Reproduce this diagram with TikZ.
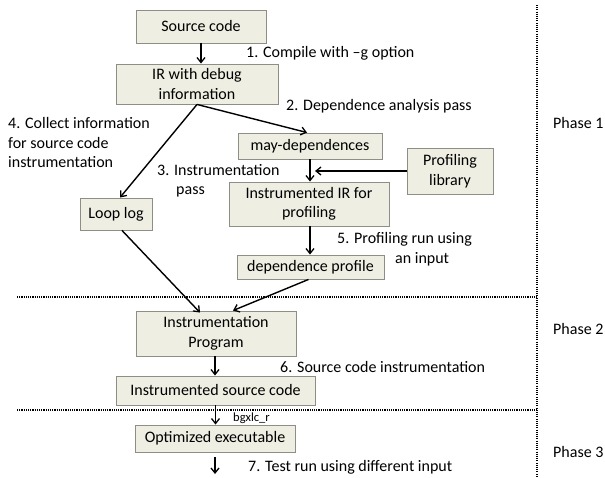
\documentclass[tikz,border=0pt]{standalone}
\usepackage{fontspec}
\setmainfont{Carlito}
\usetikzlibrary{arrows.meta,calc}
\definecolor{boxfill}{HTML}{EEEEE3}
\definecolor{boxline}{HTML}{8E8E86}
\tikzset{
  box/.style={draw=boxline,fill=boxfill,line width=0.9pt,inner sep=0pt,align=center,
    font=\fontsize{16}{19.5}\selectfont},
  lbl/.style={inner sep=0pt,font=\fontsize{16}{19.5}\selectfont},
  arr/.style={-{Straight Barb[length=5pt,width=8pt,line width=1.3pt]},line width=1.4pt,black},
  dots/.style={line width=1.4pt,dash pattern=on 1.1pt off 1.1pt}
}
\begin{document}
\begin{tikzpicture}[x=1pt,y=-1pt]
\useasboundingbox (0,0) rectangle (605,478);
% boxes
\node[box,minimum width=130pt,minimum height=33pt] (src) at (201,26.5) {Source code};
\node[box,minimum width=162pt,minimum height=40pt] (ir) at (197,84) {IR with debug\\information};
\node[box,minimum width=144pt,minimum height=26pt] (may) at (310,146) {may-dependences};
\node[box,minimum width=86pt,minimum height=46pt] (prof) at (450,171) {Profiling\\library};
\node[box,minimum width=160pt,minimum height=44pt] (iir) at (309,204) {Instrumented IR for\\profiling};
\node[box,minimum width=72pt,minimum height=32pt] (loop) at (116,214) {Loop log};
\node[box,minimum width=147pt,minimum height=24pt] (dep) at (310.5,267) {dependence profile};
\node[box,minimum width=160pt,minimum height=45pt] (ip) at (216,333.5) {Instrumentation\\Program};
\node[box,minimum width=199pt,minimum height=29pt] (isc) at (215.5,390.5) {Instrumented source code};
\node[box,minimum width=160pt,minimum height=27pt] (oe) at (215,438.5) {Optimized executable};
% labels
\node[lbl,anchor=west] (l1) at (246,53) {1. Compile with –g option};
\node[lbl,anchor=west] (l2) at (286,106) {2. Dependence analysis pass};
\node[lbl,anchor=west,align=left] (l4) at (8,143) {4. Collect information\\for source code\\instrumentation};
\node[lbl,anchor=west,align=left] (l3) at (157,181) {3. Instrumentation\\\hspace*{19pt}pass};
\node[lbl,anchor=west,align=left] (l5) at (337,249) {5. Profiling run using\\\hspace*{58pt}an input};
\node[lbl,anchor=west] (l6) at (280,367) {6. Source code instrumentation};
\node[inner sep=0pt,anchor=west,font=\fontsize{12.5}{14}\selectfont] (bg) at (233,418) {bgxlc\_r};
\node[lbl,anchor=west] (l7) at (248,467) {7. Test run using different input};
\node[lbl,anchor=west] (p1) at (553,123) {Phase 1};
\node[lbl,anchor=west] (p2) at (553,329) {Phase 2};
\node[lbl,anchor=west] (p3) at (553,452) {Phase 3};
% coordinates
\coordinate (pj) at (315,171);
\coordinate (end) at (215,474);
\coordinate (h1a) at (17,297);
\coordinate (h1b) at (537,297);
\coordinate (h2a) at (17,410);
\coordinate (h2b) at (537,410);
\coordinate (vt) at (537,5);
\coordinate (vb) at (537,476);
% connectors
\draw[arr] (src.south) -- (src.south |- ir.north);
\draw[arr] (ir.south) -- ([xshift=4pt]loop.north);
\draw[arr] (ir.south) -- ([xshift=-3pt]may.north);
\draw[arr] (may.south) -- (may.south |- iir.north);
\draw[arr] (prof.west) -- (pj);
\draw[arr] ([xshift=1pt]iir.south) -- ([xshift=1pt]iir.south |- dep.north);
\draw[arr] ([xshift=6pt]loop.south) -- ([xshift=-16pt,yshift=-2pt]ip.north);
\draw[arr] ([xshift=-2pt]dep.south) -- ([xshift=17pt]ip.north);
\draw[arr] ([xshift=-1pt]ip.south) -- ([xshift=-1pt]ip.south |- isc.north);
\draw[arr] (isc.south) -- (isc.south |- oe.north);
\draw[arr,shorten <=5pt] (oe.south) -- (end);
% phase separators
\draw[dots] (h1a) -- (h1b);
\draw[dots] (h2a) -- (h2b);
\draw[dots] (vt) -- (vb);
\end{tikzpicture}
\end{document}
